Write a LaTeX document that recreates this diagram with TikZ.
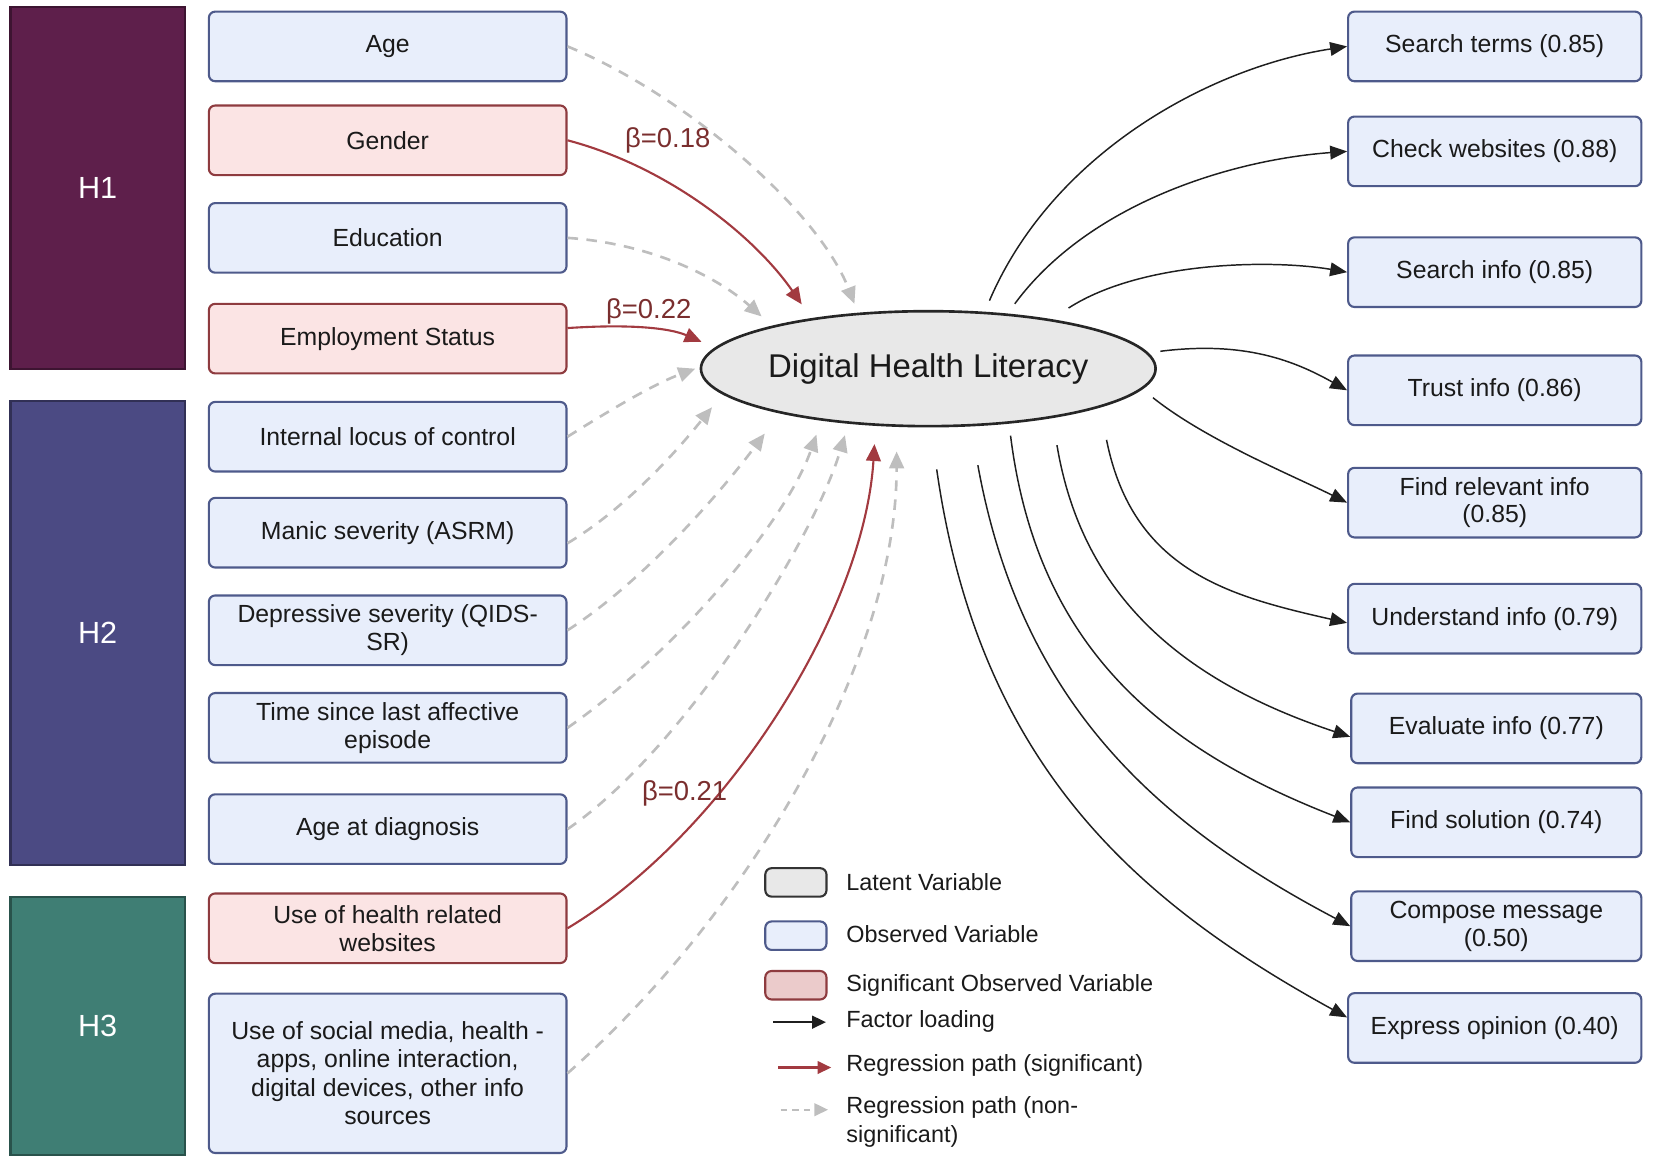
\documentclass[tikz,border=0pt]{standalone}
\usepackage{fontspec}
\setmainfont{Liberation Sans}
\usetikzlibrary{shapes.geometric,arrows.meta,calc}
\definecolor{hone}{HTML}{5E1F4B}
\definecolor{htwo}{HTML}{4B4A83}
\definecolor{hthree}{HTML}{3F7E74}
\definecolor{obsfill}{HTML}{E8EEFB}
\definecolor{obsdraw}{HTML}{4E5A8B}
\definecolor{sigfill}{HTML}{FBE4E4}
\definecolor{sigdraw}{HTML}{8E3B3F}
\definecolor{regred}{HTML}{A23A40}
\definecolor{labred}{HTML}{7A2E2E}
\definecolor{nsgray}{HTML}{BEBEBE}
\definecolor{latfill}{HTML}{E8E8E8}
\definecolor{txt}{HTML}{1A1A1A}
\begin{document}
\begin{tikzpicture}[x=0.5pt,y=-0.5pt,
  font=\fontsize{11.75}{13.2}\selectfont,
  hbar/.style={draw=#1!65!black, fill=#1, line width=1pt, minimum width=82.5pt, text=white, font=\fontsize{14.5}{16}\selectfont},
  obs/.style={draw=obsdraw, fill=obsfill, line width=1pt, rounded corners=3pt, minimum width=169.5pt, minimum height=33pt, align=center, text=txt, inner sep=2pt},
  sig/.style={obs, draw=sigdraw, fill=sigfill},
  ind/.style={obs, minimum width=139pt},
  indn/.style={obs, minimum width=137.5pt},
  latent/.style={ellipse, draw=black!85, fill=latfill, line width=1.25pt, minimum width=215.5pt, minimum height=54.5pt, inner sep=0pt, text=txt, font=\fontsize{15.6}{18}\selectfont},
  nsarr/.style={draw=nsgray, line width=1.25pt, dash pattern=on 5pt off 4pt, -{Triangle[length=8pt,width=7pt]}},
  sigarr/.style={draw=regred, line width=1pt, -{Triangle[length=8pt,width=7pt]}},
  flarr/.style={draw=black!88, line width=0.7pt, -{Triangle[length=8pt,width=6.5pt]}},
  beta/.style={text=labred, font=\fontsize{13}{15}\selectfont},
  legbox/.style={draw=#1, line width=1pt, rounded corners=3pt, minimum width=29pt, minimum height=13.5pt, inner sep=0pt},
  legtext/.style={anchor=west, inner sep=0pt, text=txt, align=left, font=\fontsize{11.1}{13.4}\selectfont}
]
\useasboundingbox (0,0) rectangle (1568,1099);

% hypothesis bars
\node[hbar=hone, minimum height=171.5pt] (h1) at (92.5,178.5) {H1};
\node[hbar=htwo, minimum height=220pt] (h2) at (92.5,600) {H2};
\node[hbar=hthree, minimum height=122.5pt] (h3) at (92.5,972.5) {H3};

% predictors
\node[obs] (age) at (367.5,44) {Age};
\node[sig] (gender) at (367.5,133) {Gender};
\node[obs] (edu) at (367.5,225.5) {Education};
\node[sig] (emp) at (367.5,321) {Employment Status};
\node[obs] (iloc) at (367.5,414) {Internal locus of control};
\node[obs] (manic) at (367.5,505) {Manic severity (ASRM)};
\node[obs] (dep) at (367.5,597.5) {Depressive severity (QIDS-\\SR)};
\node[obs] (tsl) at (367.5,690) {Time since last affective\\episode};
\node[obs] (adiag) at (367.5,786) {Age at diagnosis};
\node[sig] (web) at (367.5,880) {Use of health related\\websites};
\node[obs, minimum height=75.5pt, font=\fontsize{11.75}{13.5}\selectfont] (soc) at (367.5,1017.5) {Use of social media, health -\\apps, online interaction,\\digital devices, other info\\sources};

% latent
\node[latent] (dhl) at (880,349.5) {Digital Health Literacy};

% indicators
\node[ind] (st) at (1417,44) {Search terms (0.85)};
\node[ind] (cw) at (1417,143.5) {Check websites (0.88)};
\node[ind] (si) at (1417,258) {Search info (0.85)};
\node[ind] (ti) at (1417,370) {Trust info (0.86)};
\node[ind] (fri) at (1417,476.5) {Find relevant info\\(0.85)};
\node[ind] (ui) at (1417,586.5) {Understand info (0.79)};
\node[indn] (ev) at (1418.5,690.5) {Evaluate info (0.77)};
\node[indn] (fs) at (1418.5,779.5) {Find solution (0.74)};
\node[indn] (cm) at (1418.5,878) {Compose message\\(0.50)};
\node[ind] (eo) at (1417,974.5) {Express opinion (0.40)};

% regression paths
\draw[nsarr] (age.east) .. controls +(110,45) and +(-35,-90) .. ($(dhl.center)+(-70,-61.5)$);
\draw[sigarr] (gender.east) .. controls +(95,25) and +(-45,-65) .. ($(dhl.center)+(-120,-61)$);
\draw[nsarr] (edu.east) .. controls +(75,5) and +(-45,-40) .. ($(dhl.center)+(-158,-49.5)$);
\draw[sigarr] ($(emp.east)+(0,-10)$) .. controls +(60,-4) and +(-30,-13) .. ($(dhl.center)+(-215,-25.5)$);
\draw[nsarr] (iloc.east) .. controls +(40,-25) and +(-40,15) .. ($(dhl.center)+(-221,0)$);
\draw[nsarr] ($(manic.east)+(0,10)$) .. controls +(50,-30) and +(-40,50) .. ($(dhl.center)+(-205,36.5)$);
\draw[nsarr] (dep.east) .. controls +(70,-45) and +(-45,60) .. ($(dhl.center)+(-155,61.5)$);
\draw[nsarr] (tsl.east) .. controls +(100,-70) and +(-30,85) .. ($(dhl.center)+(-106,62.5)$);
\draw[nsarr] (adiag.east) .. controls +(110,-75) and +(-30,100) .. ($(dhl.center)+(-79,63)$);
\draw[sigarr] (web.east) .. controls +(150,-90) and +(-10,160) .. ($(dhl.center)+(-51,71.5)$);
\draw[nsarr] (soc.east) .. controls +(170,-150) and +(0,200) .. ($(dhl.center)+(-30,78.5)$);

\node[beta] (b1) at (633,133) {β=0.18};
\node[beta] (b2) at (615,295) {β=0.22};
\node[beta] (b3) at (649,752) {β=0.21};

% factor loadings
\draw[flarr] ($(dhl.center)+(58,-64.5)$) .. controls +(60,-140) and +(-130,20) .. (st.west);
\draw[flarr] ($(dhl.center)+(82,-61.5)$) .. controls +(70,-95) and +(-110,8) .. (cw.west);
\draw[flarr] ($(dhl.center)+(133,-57.5)$) .. controls +(70,-45) and +(-70,-12) .. (si.west);
\draw[flarr] ($(dhl.center)+(220,-16.5)$) .. controls +(80,-10) and +(-50,-28) .. (ti.west);
\draw[flarr] ($(dhl.center)+(213,27.5)$) .. controls +(50,40) and +(-50,-25) .. (fri.west);
\draw[flarr] ($(dhl.center)+(169,67.5)$) .. controls +(25,125) and +(-110,-25) .. ($(ui.west)+(0,4)$);
\draw[flarr] ($(dhl.center)+(122,72.5)$) .. controls +(25,150) and +(-150,-50) .. ($(ev.west)+(0,8)$);
\draw[flarr] ($(dhl.center)+(78,63.5)$) .. controls +(25,200) and +(-180,-70) .. (fs.west);
\draw[flarr] ($(dhl.center)+(47,91.5)$) .. controls +(40,220) and +(-190,-100) .. (cm.west);
\draw[flarr] ($(dhl.center)+(8,95.5)$) .. controls +(40,280) and +(-200,-110) .. ($(eo.west)+(0,-10)$);

% legend
\node[legbox=black!80, fill=latfill] (lgl) at (754.5,836.5) {};
\node[legtext] (ltl) at (802,836) {Latent Variable};
\node[legbox=obsdraw, fill=obsfill] (lgo) at (754.5,887) {};
\node[legtext] (lto) at (802,886) {Observed Variable};
\node[legbox=sigdraw, fill=sigfill!85!sigdraw] (lgs) at (754.5,934) {};
\node[legtext] (lts) at (802,934) {Significant Observed Variable};
\coordinate (fla) at (733,969);
\coordinate (flb) at (783,969);
\draw[flarr, line width=0.9pt, -{Triangle[length=6.5pt,width=6pt]}] (fla) -- (flb);
\node[legtext] (ltf) at (802,968.5) {Factor loading};
\coordinate (sga) at (738,1012);
\coordinate (sgb) at (788,1012);
\draw[sigarr, -{Triangle[length=6.5pt,width=6pt]}] (sga) -- (sgb);
\node[legtext] (ltr) at (802,1010) {Regression path (significant)};
\coordinate (nsa) at (740,1052);
\coordinate (nsb) at (785,1052);
\draw[nsarr, line width=1pt, dash pattern=on 3pt off 2.5pt, -{Triangle[length=6.5pt,width=6pt]}] (nsa) -- (nsb);
\node[legtext] (ltn) at (802,1063.5) {Regression path (non-\\significant)};
\end{tikzpicture}
\end{document}
